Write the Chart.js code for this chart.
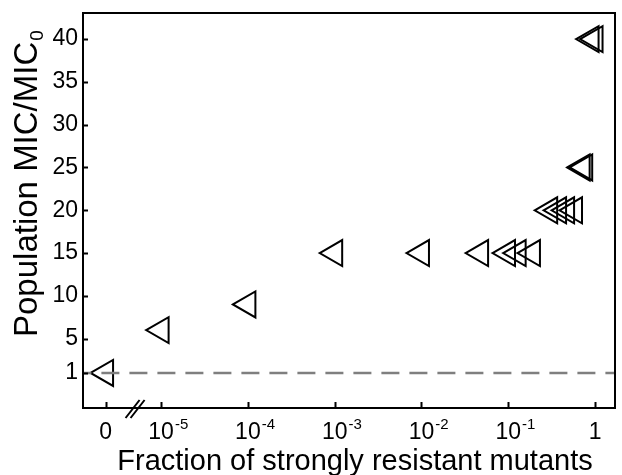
<!DOCTYPE html>
<html>
<head>
<meta charset="utf-8">
<script src="https://cdn.jsdelivr.net/npm/chart.js@4.4.1/dist/chart.umd.min.js"></script>
<style>
  html, body { margin: 0; padding: 0; background: #fff; overflow: hidden; }
  canvas { display: block; }
</style>
</head>
<body>
<canvas id="c" width="622" height="475"></canvas>
<script>
// populations with no strong mutant sit left of the axis break
var zeroFraction = [0];
var zeroMic = [1];
// fraction of strongly resistant mutants vs population MIC/MIC0
var fractions = [1e-5, 1e-4, 1e-3, 1e-2, 0.048, 0.098, 0.13, 0.19, 0.30, 0.38, 0.47, 0.58, 0.71, 0.76, 0.9, 1.0];
var mics = [6, 9, 15, 15, 15, 15, 15, 15, 20, 20, 20, 20, 25, 25, 40, 40];
var baselineMic = 1;
var xTickExponents = [-5, -4, -3, -2, -1, 0];
var yTicks = [1, 5, 10, 15, 20, 25, 30, 35, 40];
var xTitle = "Fraction of strongly resistant mutants";
var yTitle = "Population MIC/MIC";
var yTitleSub = "0";

// x axis is in decades; 0 gets its own slot left of the break
var ZERO_POS = -5.64, BREAK_POS = -5.3;
var X_MIN = -5.9, X_MAX = 0.23, Y_MIN = -3.1, Y_MAX = 43.05;
var FONT = "'Liberation Sans', Arial, sans-serif";

function toX(f) { return f === 0 ? ZERO_POS : Math.log10(f); }

var points = zeroFraction.map(function(f, i) { return {x: toX(f), y: zeroMic[i]}; });
fractions.forEach(function(f, i) { points.push({x: toX(f), y: mics[i]}); });

var decor = {
	id: 'decor',
	afterDraw: function(chart) {
		var ctx = chart.ctx, a = chart.chartArea;
		var xs = chart.scales.x, ys = chart.scales.y;
		ctx.save();
		ctx.strokeStyle = '#000';
		ctx.fillStyle = '#000';
		ctx.lineWidth = 2;
		ctx.strokeRect(a.left, a.top, a.right - a.left, a.bottom - a.top);

		// inward tick marks
		ctx.beginPath();
		[ZERO_POS].concat(xTickExponents).forEach(function(v) {
			var px = Math.round(xs.getPixelForValue(v)) + 0.5;
			ctx.moveTo(px, a.bottom);
			ctx.lineTo(px, a.bottom - 6);
		});
		yTicks.forEach(function(v) {
			var py = Math.round(ys.getPixelForValue(v)) + 0.5;
			ctx.moveTo(a.left, py);
			ctx.lineTo(a.left + 5, py);
		});
		ctx.stroke();

		// axis break
		var bx = xs.getPixelForValue(BREAK_POS), by = a.bottom + 1;
		ctx.beginPath();
		[-2.5, 2.5].forEach(function(d) {
			ctx.moveTo(bx + d - 7, by + 9);
			ctx.lineTo(bx + d + 7, by - 9);
		});
		ctx.stroke();

		// x tick labels
		var base = 439;
		ctx.textBaseline = 'alphabetic';
		ctx.font = '23px ' + FONT;
		ctx.textAlign = 'center';
		ctx.fillText('0', xs.getPixelForValue(ZERO_POS), base);
		xTickExponents.forEach(function(e) {
			var px = xs.getPixelForValue(e);
			ctx.font = '23px ' + FONT;
			ctx.textAlign = 'center';
			if (e === 0) {
				ctx.fillText('1', px, base);
				return;
			}
			ctx.fillText('10', px, base);
			var w = ctx.measureText('10').width;
			ctx.font = '15px ' + FONT;
			ctx.textAlign = 'left';
			ctx.fillText(String(e), px + w / 2 + 1, base - 10);
		});

		// axis titles
		ctx.font = '29px ' + FONT;
		ctx.textAlign = 'center';
		ctx.fillText(xTitle, 355, 470);

		ctx.translate(37, 337);
		ctx.rotate(-Math.PI / 2);
		ctx.textAlign = 'left';
		ctx.font = '33px ' + FONT;
		ctx.fillText(yTitle, 0, 0);
		var tw = ctx.measureText(yTitle).width;
		ctx.font = '19px ' + FONT;
		ctx.fillText(yTitleSub, tw + 1, 6);
		ctx.restore();
	}
};

new Chart(document.getElementById('c'), {
	type: 'scatter',
	data: {
		datasets: [{
			type: 'line',
			data: [{x: X_MIN, y: baselineMic}, {x: X_MAX, y: baselineMic}],
			borderColor: '#7f7f7f',
			borderWidth: 2.5,
			borderDash: [18, 10],
			borderDashOffset: 9.6,
			pointRadius: 0,
			fill: false
		}, {
			data: points,
			pointStyle: 'triangle',
			rotation: -90,
			pointRadius: 15,
			pointHoverRadius: 15,
			borderWidth: 2,
			borderColor: '#000',
			backgroundColor: 'rgba(0,0,0,0)'
		}]
	},
	options: {
		responsive: false,
		animation: false,
		devicePixelRatio: 1,
		layout: { autoPadding: false, padding: { top: 13, right: 7, left: 0, bottom: 0 } },
		plugins: { legend: { display: false }, tooltip: { enabled: false } },
		scales: {
			x: {
				type: 'linear', min: X_MIN, max: X_MAX,
				grid: { display: false, drawTicks: false }, border: { display: false },
				ticks: { display: false },
				afterFit: function(s) { s.height = 67; s.paddingLeft = 0; s.paddingRight = 0; }
			},
			y: {
				type: 'linear', min: Y_MIN, max: Y_MAX,
				grid: { display: false, drawTicks: false }, border: { display: false },
				afterBuildTicks: function(s) { s.ticks = yTicks.map(function(v) { return {value: v}; }); },
				ticks: { color: '#000', padding: 5, font: { size: 23, family: FONT } },
				afterFit: function(s) { s.width = 83; s.paddingTop = 0; s.paddingBottom = 0; }
			}
		}
	},
	plugins: [decor]
});
</script>
</body>
</html>
